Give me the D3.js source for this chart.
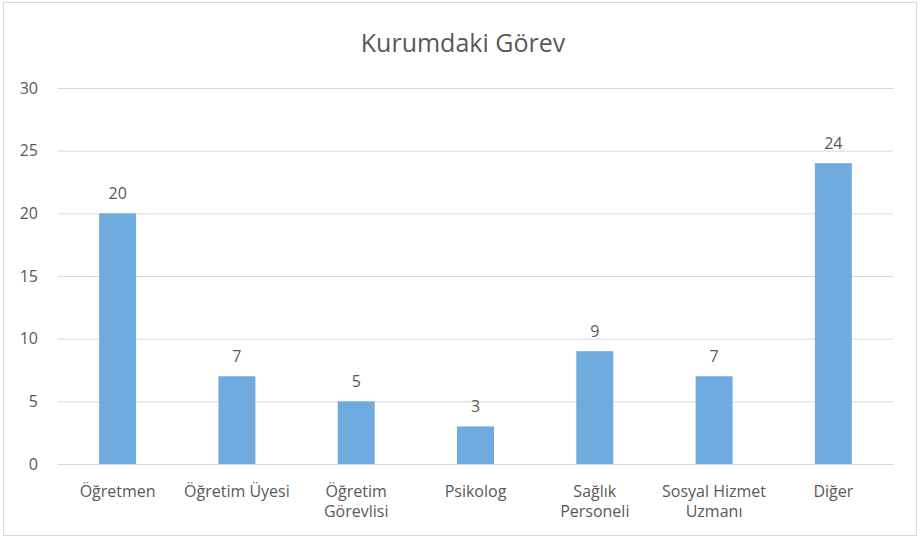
<!DOCTYPE html>
<html><head><meta charset="utf-8">
<script src="https://cdn.jsdelivr.net/npm/d3@7"></script>
<style>body{margin:0;background:#fff}svg{display:block}text{font-family:"Open Sans",sans-serif;fill:#595959}</style>
</head><body>
<svg id="c" width="920" height="539"></svg>
<script>
const title = "Kurumdaki Görev";
const categories = ["Öğretmen","Öğretim Üyesi","Öğretim\nGörevlisi","Psikolog","Sağlık\nPersoneli","Sosyal Hizmet\nUzmanı","Diğer"];
const values = [20,7,5,3,9,7,24];
const yTicks = [0,5,10,15,20,25,30];

const svg = d3.select("#c");
svg.append("rect").attr("x",3.5).attr("y",2.5).attr("width",913).attr("height",533)
  .attr("fill","#fff").attr("stroke","#d9d9d9");
const L=58,R=893,T=88,B=464;
const x = d3.scaleBand().domain(categories).range([L,R]).paddingInner(0.69).paddingOuter(0.345);
const y = d3.scaleLinear().domain([0,30]).range([B,T]);

svg.append("g").selectAll("line").data(yTicks).join("line")
  .attr("x1",L).attr("x2",R).attr("y1",d=>y(d)+0.5).attr("y2",d=>y(d)+0.5)
  .attr("stroke","#d9d9d9").attr("stroke-width",1);

svg.append("g").selectAll("text").data(yTicks).join("text")
  .attr("x",38).attr("y",d=>y(d)).attr("dy","0.35em").attr("text-anchor","end")
  .attr("font-size",16).text(d=>d);

svg.append("g").selectAll("rect").data(values).join("rect")
  .attr("x",(d,i)=>x(categories[i])).attr("width",x.bandwidth())
  .attr("y",d=>y(d)).attr("height",d=>B-y(d)).attr("fill","#6FABDF");

svg.append("g").selectAll("text").data(values).join("text")
  .attr("x",(d,i)=>x(categories[i])+x.bandwidth()/2).attr("y",d=>y(d)-14)
  .attr("text-anchor","middle").attr("font-size",16).text(d=>d);

const lines = categories.flatMap(c => c.split("\n").map((s,i)=>({c,s,i})));
svg.append("g").selectAll("text").data(lines).join("text")
  .attr("x",d=>x(d.c)+x.bandwidth()/2).attr("y",d=>497+d.i*20)
  .attr("text-anchor","middle").attr("font-size",16).text(d=>d.s);

svg.append("text").attr("x",463).attr("y",52).attr("text-anchor","middle")
  .attr("font-size",25).text(title);
</script>
</body></html>
